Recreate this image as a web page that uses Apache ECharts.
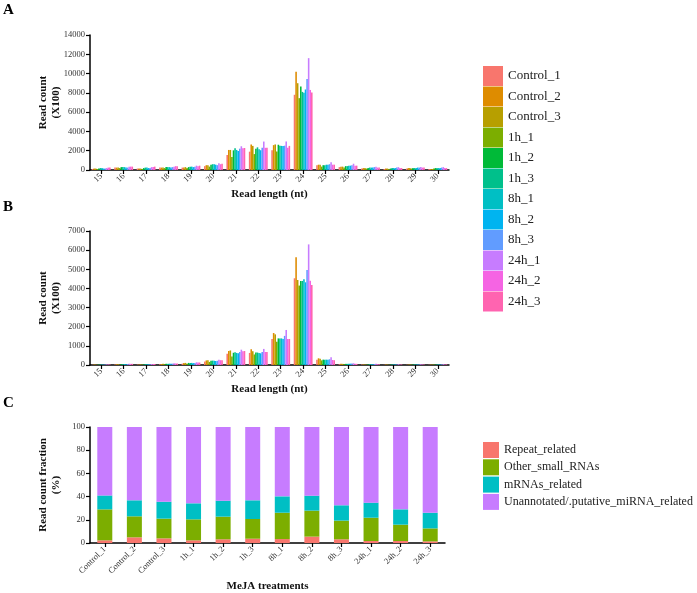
<!DOCTYPE html>
<html>
<head>
<meta charset="utf-8">
<script src="https://cdn.jsdelivr.net/npm/echarts@6/dist/echarts.min.js"></script>
<style>
  html, body { margin: 0; padding: 0; background: #fff; }
  #chart { width: 697px; height: 593px; }
</style>
</head>
<body>
<div id="chart"></div>
<script>
// read lengths (nt) for panels A and B
const lengths = ['15', '16', '17', '18', '19', '20', '21', '22', '23', '24', '25', '26', '27', '28', '29', '30'];

const samples = ['Control_1', 'Control_2', 'Control_3', '1h_1', '1h_2', '1h_3',
                 '8h_1', '8h_2', '8h_3', '24h_1', '24h_2', '24h_3'];

const sampleColors = ['#F8766D', '#DE8C00', '#B79F00', '#7CAE00', '#00BA38', '#00C08B',
                      '#00BFC4', '#00B4F0', '#619CFF', '#C77CFF', '#F564E3', '#FF64B0'];

// panel A: read count (x100), one row per length, one column per sample
const countsA = [
    [100, 150, 150, 100, 150, 200, 200, 150, 150, 200, 250, 250],
    [250, 250, 250, 200, 300, 300, 300, 250, 250, 350, 350, 350],
    [150, 150, 150, 100, 200, 250, 250, 200, 200, 300, 300, 350],
    [250, 250, 250, 200, 300, 300, 300, 250, 300, 350, 400, 400],
    [250, 250, 300, 200, 300, 350, 350, 300, 350, 450, 400, 450],
    [400, 500, 500, 350, 550, 600, 600, 550, 500, 700, 600, 650],
    [1560, 2080, 2080, 1350, 2040, 2250, 2080, 1970, 2210, 2460, 2250, 2280],
    [1900, 2650, 2500, 1650, 2200, 2350, 2150, 2050, 2300, 2950, 2300, 2300],
    [2060, 2580, 2650, 1920, 2620, 2520, 2500, 2500, 2520, 2960, 2300, 2500],
    [7800, 10200, 9000, 7450, 8650, 8100, 8000, 8350, 9450, 11600, 8300, 8050],
    [500, 550, 550, 350, 500, 500, 550, 550, 600, 800, 550, 550],
    [300, 350, 350, 250, 400, 400, 450, 450, 500, 650, 450, 450],
    [150, 200, 200, 150, 200, 250, 250, 250, 300, 350, 250, 250],
    [100, 150, 150, 100, 150, 200, 200, 200, 250, 300, 200, 200],
    [150, 200, 200, 150, 200, 200, 200, 250, 250, 300, 250, 250],
    [100, 100, 100, 150, 200, 200, 200, 200, 250, 300, 200, 200]
];

// panel B: read count (x100), same layout
const countsB = [
    [10, 20, 20, 10, 20, 20, 20, 20, 20, 30, 30, 30],
    [20, 40, 40, 20, 40, 40, 50, 40, 50, 60, 60, 60],
    [20, 30, 30, 20, 30, 40, 40, 40, 40, 50, 50, 50],
    [40, 50, 60, 40, 60, 60, 70, 60, 70, 90, 80, 80],
    [70, 100, 110, 70, 110, 110, 110, 100, 110, 140, 130, 130],
    [180, 240, 250, 160, 220, 230, 220, 210, 220, 270, 250, 250],
    [590, 730, 760, 450, 640, 660, 630, 610, 680, 800, 720, 730],
    [630, 820, 720, 550, 650, 650, 630, 610, 680, 840, 680, 680],
    [1360, 1670, 1600, 1220, 1390, 1390, 1390, 1360, 1520, 1830, 1360, 1360],
    [4530, 5630, 4440, 4150, 4390, 4390, 4480, 4320, 4960, 6300, 4400, 4180],
    [280, 350, 330, 240, 280, 280, 280, 280, 300, 410, 260, 250],
    [40, 60, 60, 40, 60, 60, 70, 70, 80, 90, 60, 60],
    [20, 30, 30, 20, 30, 40, 40, 40, 50, 60, 40, 40],
    [10, 20, 20, 10, 20, 20, 30, 30, 30, 40, 30, 30],
    [10, 20, 20, 20, 20, 30, 30, 30, 30, 40, 30, 30],
    [10, 20, 20, 20, 20, 30, 30, 30, 30, 40, 30, 30]
];

// panel C: read count fraction (%) per sample
const classNames = ['Repeat_related', 'Other_small_RNAs', 'mRNAs_related', 'Unannotated/.putative_miRNA_related'];
const classColors = ['#F8766D', '#7CAE00', '#00BFC4', '#C77CFF'];
const repeatRelated = [2.3, 4.9, 4.0, 2.3, 3.2, 3.7, 3.4, 5.5, 3.2, 1.7, 1.7, 1.4];
const otherSmall = [26.7, 18.1, 17.0, 18.1, 19.5, 17.0, 22.7, 22.4, 16.1, 20.1, 14.1, 11.2];
const mrnaRelated = [12.0, 13.8, 14.6, 13.8, 13.8, 16.1, 14.1, 12.9, 13.2, 13.0, 13.2, 13.5];
const unannotated = [59.0, 63.2, 64.4, 65.8, 63.5, 63.2, 59.8, 59.2, 67.5, 65.2, 71.0, 73.9];

const serif = 'Liberation Serif';
const axisLine = { show: true, lineStyle: { color: '#000', width: 1.5 } };
const axisTick = { show: true, length: 4, lineStyle: { color: '#000', width: 1.2 } };
const tickLabel = { fontFamily: serif, fontSize: 8.5, color: '#333' };
const nameStyle = { fontFamily: serif, fontSize: 11, fontWeight: 'bold', color: '#111', lineHeight: 13 };

function catAxis(idx, data, name, gap) {
    return {
        type: 'category', gridIndex: idx, data: data,
        axisLine: axisLine, axisTick: Object.assign({ alignWithLabel: true }, axisTick),
        axisLabel: Object.assign({ rotate: 45, margin: 5, interval: 0 }, tickLabel),
        name: name, nameLocation: 'middle', nameGap: gap, nameTextStyle: nameStyle,
        nameMoveOverlap: false,
        splitLine: { show: false }
    };
}

function valAxis(idx, max, interval, name) {
    return {
        type: 'value', gridIndex: idx, min: 0, max: max, interval: interval,
        axisLine: axisLine, axisTick: axisTick,
        axisLabel: Object.assign({ margin: 5, formatter: function(v) { return String(v); } }, tickLabel),
        name: name, nameLocation: 'middle', nameGap: 27, nameRotate: 90,
        nameTextStyle: nameStyle, nameMoveOverlap: false,
        splitLine: { show: false }
    };
}

const series = [];
samples.forEach(function(s, i) {
    series.push({
        name: s, type: 'bar', xAxisIndex: 0, yAxisIndex: 0,
        barGap: '0%', barCategoryGap: '16%',
        itemStyle: { color: sampleColors[i] },
        data: countsA.map(function(row) { return row[i]; })
    });
});
samples.forEach(function(s, i) {
    series.push({
        name: s, type: 'bar', xAxisIndex: 1, yAxisIndex: 1,
        barGap: '0%', barCategoryGap: '16%',
        itemStyle: { color: sampleColors[i] },
        data: countsB.map(function(row) { return row[i]; })
    });
});
[repeatRelated, otherSmall, mrnaRelated, unannotated].forEach(function(vals, k) {
    series.push({
        name: classNames[k], type: 'bar', xAxisIndex: 2, yAxisIndex: 2,
        stack: 'frac', barWidth: 15,
        itemStyle: { color: classColors[k] },
        data: vals
    });
});

const chart = echarts.init(document.getElementById('chart'));
chart.setOption({
    animation: false,
    backgroundColor: '#fff',
    grid: [
        { left: 90, top: 35, width: 359, height: 135, outerBoundsMode: 'none' },
        { left: 90, top: 231, width: 359, height: 134, outerBoundsMode: 'none' },
        { left: 90, top: 427, width: 355, height: 116, outerBoundsMode: 'none' }
    ],
    xAxis: [
        catAxis(0, lengths, 'Read length (nt)', 18),
        catAxis(1, lengths, 'Read length (nt)', 18),
        catAxis(2, samples, 'MeJA treatments', 37)
    ],
    yAxis: [
        valAxis(0, 14000, 2000, 'Read count\n(X100)'),
        valAxis(1, 7000, 1000, 'Read count\n(X100)'),
        valAxis(2, 100, 20, 'Read count fraction\n(%)')
    ],
    legend: [
        {
            data: samples, orient: 'vertical', left: 483, top: 66, padding: 0,
            icon: 'rect', itemWidth: 20, itemHeight: 20, itemGap: 0.5,
            textStyle: { fontFamily: serif, fontSize: 13, color: '#222' }
        },
        {
            data: classNames, orient: 'vertical', left: 483, top: 442, padding: 0,
            icon: 'rect', itemWidth: 16, itemHeight: 16, itemGap: 1.3,
            textStyle: { fontFamily: serif, fontSize: 12, color: '#222' }
        }
    ],
    graphic: [
        { type: 'text', left: 3, top: 3, style: { text: 'A', font: 'bold 15px "Liberation Serif"', fill: '#000' } },
        { type: 'text', left: 3, top: 200, style: { text: 'B', font: 'bold 15px "Liberation Serif"', fill: '#000' } },
        { type: 'text', left: 3, top: 396, style: { text: 'C', font: 'bold 15px "Liberation Serif"', fill: '#000' } }
    ],
    series: series
});
</script>
</body>
</html>
